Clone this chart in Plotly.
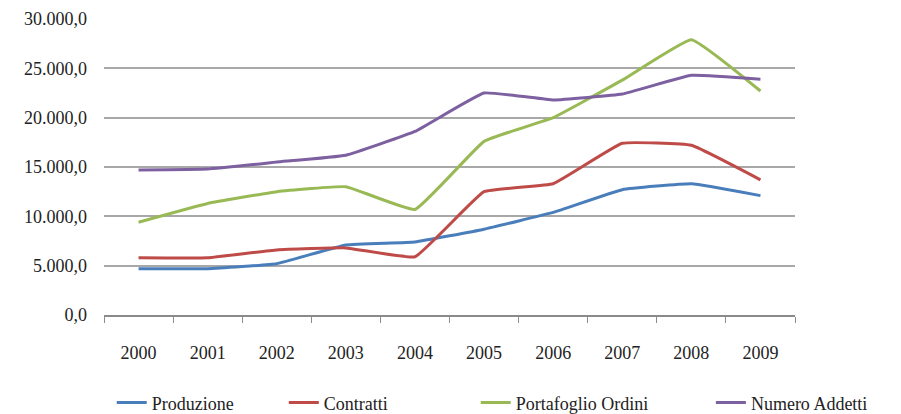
import plotly.graph_objects as go

years = ["2000", "2001", "2002", "2003", "2004", "2005", "2006", "2007", "2008", "2009"]
produzione = [4700, 4700, 5200, 7100, 7400, 8700, 10400, 12700, 13300, 12100]
contratti = [5800, 5800, 6600, 6800, 5900, 12500, 13300, 17400, 17200, 13700]
portafoglio = [9400, 11300, 12500, 13000, 10700, 17600, 20000, 23800, 27900, 22700]
addetti = [14700, 14800, 15500, 16200, 18600, 22500, 21800, 22400, 24300, 23900]

series = [
    ("Produzione", produzione, "#4A7EBB"),
    ("Contratti", contratti, "#BE4B48"),
    ("Portafoglio Ordini", portafoglio, "#98B954"),
    ("Numero Addetti", addetti, "#7D60A0"),
]

tick_vals = [0, 5000, 10000, 15000, 20000, 25000, 30000]
tick_text = ["0,0", "5.000,0", "10.000,0", "15.000,0", "20.000,0", "25.000,0", "30.000,0"]

font = dict(family="Liberation Serif", size=18, color="#222222")

# each series gets its own single-entry legend so the entries can be spaced freely
legend_x = [0.124, 0.315, 0.528, 0.789]

fig = go.Figure()
layout_legends = {}
for i, ((name, vals, color), lx) in enumerate(zip(series, legend_x)):
    key = "legend" if i == 0 else f"legend{i + 1}"
    fig.add_trace(go.Scatter(
        x=years, y=vals, name=name, mode="lines", legend=key,
        line=dict(color=color, width=3, shape="spline", smoothing=0.3),
    ))
    layout_legends[key] = dict(
        orientation="h", xref="container", yref="container",
        x=lx, xanchor="left", y=0.027, yanchor="middle",
        font=dict(font), itemwidth=30, bgcolor="rgba(0,0,0,0)",
    )

fig.update_layout(
    width=901, height=414,
    margin=dict(l=104, r=106, t=19, b=99, autoexpand=False),
    paper_bgcolor="white", plot_bgcolor="white",
    font=font,
    showlegend=True,
    xaxis=dict(
        type="category", showgrid=False, automargin=False,
        showline=True, linecolor="#8a8a8a", linewidth=2,
        ticks="outside", tickson="boundaries", ticklen=6, tickcolor="#8a8a8a", tickwidth=1,
        range=[-0.5, 9.5], tickfont=font, ticklabelstandoff=20,
    ),
    yaxis=dict(
        range=[0, 30000], tickvals=tick_vals, ticktext=tick_text, automargin=False,
        showgrid=True, gridcolor="#a8a8a8", gridwidth=2,
        zeroline=False, showline=False, ticks="", ticklabelstandoff=16,
        tickfont=font,
    ),
    **layout_legends,
)

fig.write_html("out.html")
